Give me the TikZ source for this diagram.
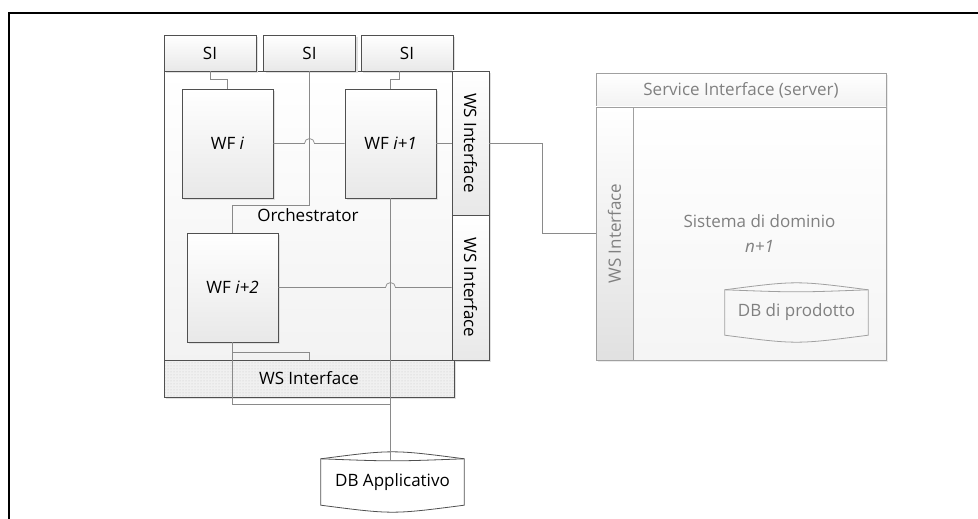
\documentclass[tikz,border=0pt]{standalone}
\usepackage{fontspec}
\setmainfont{Open Sans}
\usetikzlibrary{positioning,calc,shadows,patterns}

\definecolor{boxline}{HTML}{505050}
\definecolor{wireline}{HTML}{8A8A8A}
\definecolor{paleline}{HTML}{A0A0A0}
\definecolor{paletext}{HTML}{808080}

% database outline round a named node
\newcommand{\dbshape}[2]{%
  \draw[#2] ([yshift=-7]#1.north west) .. controls ([yshift=2.3]#1.north) .. ([yshift=-7]#1.north east)
    -- ([yshift=7]#1.south east) .. controls ([yshift=-2.3]#1.south) .. ([yshift=7]#1.south west) -- cycle;
  \draw[#2] ([yshift=-7]#1.north west) .. controls ([yshift=-9.7]#1.north) .. ([yshift=-7]#1.north east);}

\tikzset{
  box/.style={draw=boxline, line width=0.8pt, inner sep=0pt, top color=white, bottom color=black!9,
    drop shadow={shadow xshift=2pt, shadow yshift=-2pt, fill=black!12, opacity=1}},
  dotbar/.style={draw=boxline, line width=0.8pt, inner sep=0pt,
    drop shadow={shadow xshift=2pt, shadow yshift=-2pt, fill=black!12, opacity=1},
    preaction={fill=black!6}, pattern=dots, pattern color=black!22},
  pale/.style={draw=paleline, line width=0.8pt, inner sep=0pt, text=paletext, top color=white, bottom color=black!5,
    drop shadow={shadow xshift=2pt, shadow yshift=-2pt, fill=black!8, opacity=1}},
  wire/.style={draw=wireline, line width=0.7pt}
}

\begin{document}
\begin{tikzpicture}[x=1pt,y=1pt,font=\fontsize{17}{20}\selectfont]
\useasboundingbox (0,0) rectangle (978,-519);
\draw[line width=2.5pt] (9,-519) -- (9,-13) -- (978,-13);

% orchestrator side
\node[box, minimum width=288, minimum height=289, bottom color=black!5] (orch) at (308,-215.5) {Orchestrator};
\node[box, minimum width=92, minimum height=36] (si1) at (210,-53) {SI};
\node[box, minimum width=92, minimum height=36] (si2) at (309.5,-53) {SI};
\node[box, minimum width=92, minimum height=36] (si3) at (407,-53) {SI};
\node[box, minimum width=37, minimum height=144] (wsr1) at (470.5,-143) {\rotatebox{-90}{WS Interface}};
\node[box, minimum width=37, minimum height=145] (wsr2) at (470.5,-287.5) {\rotatebox{-90}{WS Interface}};
\node[dotbar, minimum width=290, minimum height=37] (wsb) at (309,-378.5) {WS Interface};
\node[box, minimum width=91, minimum height=109] (wfi) at (227.5,-143.5) {WF \textit{i}};
\node[box, minimum width=91, minimum height=109] (wfi1) at (390.5,-143.5) {WF \textit{i+1}};
\node[box, minimum width=91, minimum height=109] (wfi2) at (232.5,-287.5) {WF \textit{i+2}};

\node[minimum width=143, minimum height=60, inner sep=0pt] (dbapp) at (392.5,-482) {DB Applicativo};
\dbshape{dbapp}{draw=boxline, line width=0.8pt}

% domain system
\node[pale, minimum width=290, minimum height=34] (svc) at (741,-90) {Service Interface (server)};
\node[pale, minimum width=37, minimum height=253, bottom color=black!12] (wsl) at (614.5,-233.5) {\rotatebox{90}{WS Interface}};
\node[pale, minimum width=253, minimum height=253, align=center, bottom color=black!4] (sys) at (759.5,-233.5) {Sistema di dominio\\[5pt]\textit{n+1}};
\node[minimum width=143, minimum height=59, inner sep=0pt, text=paletext] (dbprod) at (796.5,-312.5) {DB di prodotto};
\dbshape{dbprod}{draw=paleline, line width=0.8pt}

% connectors
\draw[wire] (si1.south) -- ++(0,-8) -| (wfi.north);
\draw[wire] ([xshift=-8]si3.south) -- ++(0,-8) -| (wfi1.north);
\draw[wire] (si2.south) -- ++(0,-134) -| (wfi2.north);
\draw[wire] (wfi.east) -- ($(si2.south |- wfi.east)+(-5,0)$) arc (180:0:5) -- (wfi1.west);
\draw[wire] (wfi1.east) -- (wfi1.east -| wsr1.west);
\draw[wire] (wsr1.east) -- ++(52.5,0) |- (wsl.west);
\coordinate (join) at ($(wfi1.south)+(0,-206)$);
\draw[wire] (wfi1.south) -- ([yshift=-9]wfi1.south |- dbapp.north);
\draw[wire] (wfi2.east) -- ($(wfi1.south |- wfi2.east)+(-5,0)$) arc (180:0:5) -- (wfi2.east -| wsr2.west);
\draw[wire] (wfi2.south) -- ++(0,-10) -| (wsb.north);
\draw[wire] (wfi2.south) |- (join);
\end{tikzpicture}
\end{document}
